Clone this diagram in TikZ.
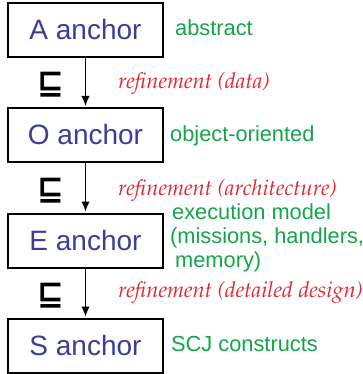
\documentclass[tikz,border=0pt]{standalone}
\usepackage{fontspec}
\setmainfont{Liberation Sans}
\newfontfamily\symfont{DejaVu Sans}
\usetikzlibrary{arrows.meta}
\definecolor{boxblue}{RGB}{60,60,155}
\definecolor{labgreen}{RGB}{20,165,75}
\definecolor{refred}{RGB}{225,40,50}
\newcommand\palit{\fontencoding{OT1}\fontfamily{ppl}\fontseries{m}\fontshape{it}\selectfont}
\tikzset{
  anchorbox/.style={draw, line width=2pt, minimum width=155pt, minimum height=54pt,
    inner sep=0pt, font=\fontsize{28}{30}\selectfont, text=boxblue,
    text height=20pt, text depth=0pt},
  refarrow/.style={line width=1.6pt, -{Latex[length=10pt,width=8.5pt]}, shorten >=1pt},
  greenlab/.style={anchor=base west, inner sep=0pt, text=labgreen, font=\fontsize{21.8}{24}\selectfont},
  redlab/.style={anchor=base west, inner sep=0pt, text=refred, font=\palit\fontsize{21.9}{24}\selectfont},
  sqsym/.style={inner sep=0pt, font=\symfont\bfseries\fontsize{32}{32}\selectfont}
}
\begin{document}
\begin{tikzpicture}[x=1pt,y=-1pt]
\useasboundingbox (0,0) rectangle (363,374);
\node[anchorbox] (A) at (85.5,30) {A anchor};
\node[anchorbox] (O) at (85.5,135) {O anchor};
\node[anchorbox] (E) at (85.5,240.5) {E anchor};
\node[anchorbox] (S) at (85.5,345.5) {S anchor};
\draw[refarrow] (A) -- (O);
\draw[refarrow] (O) -- (E);
\draw[refarrow] (E) -- (S);
\node[sqsym] (q1) at (50.5,85) {⊑};
\node[sqsym] (q2) at (50.5,191) {⊑};
\node[sqsym] (q3) at (50.5,296) {⊑};
\node[redlab] (r1) at (118,89) {refinement (data)};
\node[redlab] (r2) at (118,195) {refinement (architecture)};
\node[redlab] (r3) at (118,297) {refinement (detailed design)};
\node[greenlab] (gA) at (175,36) {abstract};
\node[greenlab] (gO) at (170,142) {object-oriented};
\node[greenlab] (gE) at (170,219) {\vtop{\baselineskip=24pt\hbox{\kern2pt execution model}\hbox{(missions, handlers,}\hbox{\kern5pt memory)}}};
\node[greenlab] (gS) at (171,351) {SCJ constructs};
\end{tikzpicture}
\end{document}
